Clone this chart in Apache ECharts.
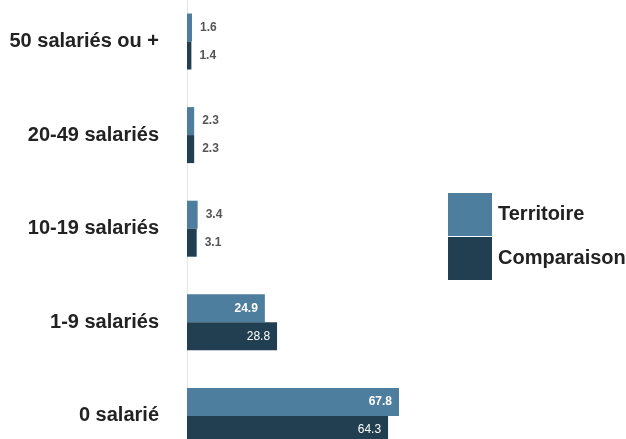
<!DOCTYPE html>
<html>
<head>
<meta charset="utf-8">
<script src="https://cdn.jsdelivr.net/npm/echarts@6/dist/echarts.min.js"></script>
<style>
  html, body { margin: 0; padding: 0; background: #fff; }
  #chart { width: 626px; height: 439px; }
</style>
</head>
<body>
<div id="chart"></div>
<script>
// Répartition des établissements par taille (en %)
const categories = ['50 salariés ou +', '20-49 salariés', '10-19 salariés', '1-9 salariés', '0 salarié'];
const territoire = [1.6, 2.3, 3.4, 24.9, 67.8];
const comparaison = [1.4, 2.3, 3.1, 28.8, 64.3];

const colTerritoire = '#4e7e9e';
const colComparaison = '#223f52';

// Small values are written beside the bar, large ones inside its end
function labelled(values, insideWeight) {
  return values.map(v => {
    const inside = v >= 10;
    return {
      value: v,
      label: inside
        ? { position: 'insideRight', color: '#ffffff', distance: 7, fontWeight: insideWeight }
        : { position: 'right', color: '#555555', distance: 8, fontWeight: 'bold' }
    };
  });
}

const chart = echarts.init(document.getElementById('chart'));
chart.setOption({
  backgroundColor: '#ffffff',
  animation: false,
  textStyle: { fontFamily: 'Liberation Sans, Arial, sans-serif' },
  legend: {
    orient: 'vertical',
    left: 448,
    top: 193,
    padding: 0,
    icon: 'rect',
    itemWidth: 44,
    itemHeight: 43,
    itemGap: 1,
    itemStyle: { borderWidth: 0 },
    textStyle: { fontSize: 20, fontWeight: 'bold', color: '#222222', padding: [0, 0, 0, 1] },
    data: ['Territoire', 'Comparaison']
  },
  grid: { left: 187, top: -5.3, width: 312.7, height: 468, outerBoundsMode: 'none', containLabel: false },
  xAxis: {
    type: 'value',
    min: 0,
    max: 100,
    show: false
  },
  yAxis: {
    type: 'category',
    inverse: true,
    data: categories,
    axisLine: { show: true, lineStyle: { color: '#e4e4e4' } },
    axisTick: { show: false },
    axisLabel: {
      margin: 28,
      fontSize: 20,
      fontWeight: 'bold',
      color: '#222222'
    }
  },
  series: [
    {
      name: 'Territoire',
      type: 'bar',
      data: labelled(territoire, 'bold'),
      itemStyle: { color: colTerritoire },
      barWidth: 28,
      barGap: '0%',
      label: { show: true, fontSize: 12 }
    },
    {
      name: 'Comparaison',
      type: 'bar',
      data: labelled(comparaison, 'normal'),
      itemStyle: { color: colComparaison },
      barWidth: 28,
      barGap: '0%',
      label: { show: true, fontSize: 12 }
    }
  ]
});
</script>
</body>
</html>
